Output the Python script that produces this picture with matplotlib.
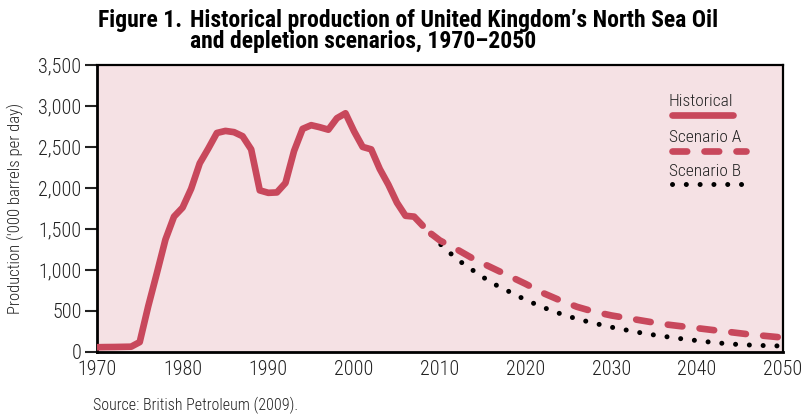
import matplotlib
matplotlib.use('Agg')
import matplotlib.pyplot as plt
from matplotlib.ticker import FuncFormatter

plt.rcParams['font.family'] = ['Roboto Condensed', 'DejaVu Sans']

# historical production ('000 barrels per day)
hist_years = list(range(1970, 2009))
hist_vals = [57, 59, 60, 62, 64, 120, 560, 960, 1370, 1650,
             1760, 1990, 2300, 2480, 2670, 2695, 2680, 2630, 2470, 1970,
             1940, 1945, 2060, 2450, 2720, 2765, 2740, 2710, 2850, 2910,
             2690, 2500, 2470, 2230, 2040, 1820, 1660, 1650, 1540]

scen_years = [2009, 2010, 2012, 2014, 2016, 2018, 2020, 2022, 2024, 2026, 2028,
              2030, 2032, 2034, 2036, 2038, 2040, 2042, 2044, 2046, 2048, 2050]
scen_a = [1440, 1360, 1250, 1130, 1030, 930, 830, 720, 630, 550, 490,
          445, 410, 375, 340, 315, 290, 265, 240, 215, 195, 175]
scen_b = [1430, 1320, 1130, 985, 845, 740, 635, 545, 468, 402, 350,
          302, 262, 222, 192, 163, 138, 114, 96, 85, 77, 72]

x_ticks = list(range(1970, 2051, 10))
y_ticks = list(range(0, 3501, 500))

red = '#c8485c'
bg = '#f5e1e4'
ink = '#222222'

fig = plt.figure(figsize=(8.07, 4.16), dpi=100)
ax = fig.add_axes([0.120, 0.154, 0.850, 0.690])
ax.set_facecolor(bg)

ax.plot(hist_years, hist_vals, color=red, lw=4.8, solid_capstyle='round',
        solid_joinstyle='round', zorder=3)
ax.plot(scen_years, scen_b, color='black', lw=3.6, linestyle=(0, (0.01, 2.75)),
        dash_capstyle='round', zorder=2)
ax.plot(scen_years, scen_a, color=red, lw=4.8, linestyle=(0, (2.2, 2.6)),
        dash_capstyle='round', zorder=3)

ax.set_xlim(1970, 2050)
ax.set_ylim(0, 3500)
ax.set_xticks(x_ticks)
ax.set_yticks(y_ticks)
ax.yaxis.set_major_formatter(FuncFormatter(lambda v, p: f'{int(v):,}'))
ax.tick_params(axis='x', length=0, pad=6, labelsize=14.5, colors=ink)
ax.tick_params(axis='y', length=9, width=1.5, pad=2, labelsize=14.5, colors=ink)
for lab in ax.get_xticklabels() + ax.get_yticklabels():
    lab.set_fontweight(300)
for side in ['left', 'bottom']:
    ax.spines[side].set_linewidth(2)
for side in ['top', 'right']:
    ax.spines[side].set_linewidth(1.6)

ax.set_ylabel("Production ('000 barrels per day)", fontsize=12, color=ink,
              labelpad=10, fontweight=300)

# legend, drawn by hand: label above its line sample
leg = [('Historical', '-', 0.871, 0.826, 0.927),
       ('Scenario A', 'a', 0.746, 0.700, 0.946),
       ('Scenario B', 'b', 0.627, 0.585, 0.942)]
for label, kind, ty, ly, x1 in leg:
    ax.text(0.834, ty, label, transform=ax.transAxes, fontsize=12.5,
            color=ink, va='center', ha='left', fontweight=300)
    if kind == '-':
        ax.plot([0.838, x1], [ly, ly], transform=ax.transAxes, color=red, lw=4.8,
                solid_capstyle='round')
    elif kind == 'a':
        ax.plot([0.838, x1], [ly, ly], transform=ax.transAxes, color=red, lw=4.8,
                linestyle=(0, (2.2, 2.6)), dash_capstyle='round')
    else:
        ax.plot([0.838, x1], [ly, ly], transform=ax.transAxes, color='black', lw=3.6,
                linestyle=(0, (0.01, 2.75)), dash_capstyle='round')

fig.text(182 / 807, 1 - 20 / 416, 'Figure 1.', fontsize=17, fontweight='bold',
         va='center', ha='right', color='black')
fig.text(190 / 807, 1 - 31 / 416,
         'Historical production of United Kingdom\u2019s North Sea Oil\nand depletion scenarios, 1970\u20132050',
         fontsize=17, fontweight='bold', va='center', ha='left', color='black',
         linespacing=0.92)
fig.text(93 / 807, 1 - 405 / 416, 'Source: British Petroleum (2009).', fontsize=11.5,
         va='center', ha='left', color=ink, fontweight=300)

fig.savefig('out.png', dpi=100)
